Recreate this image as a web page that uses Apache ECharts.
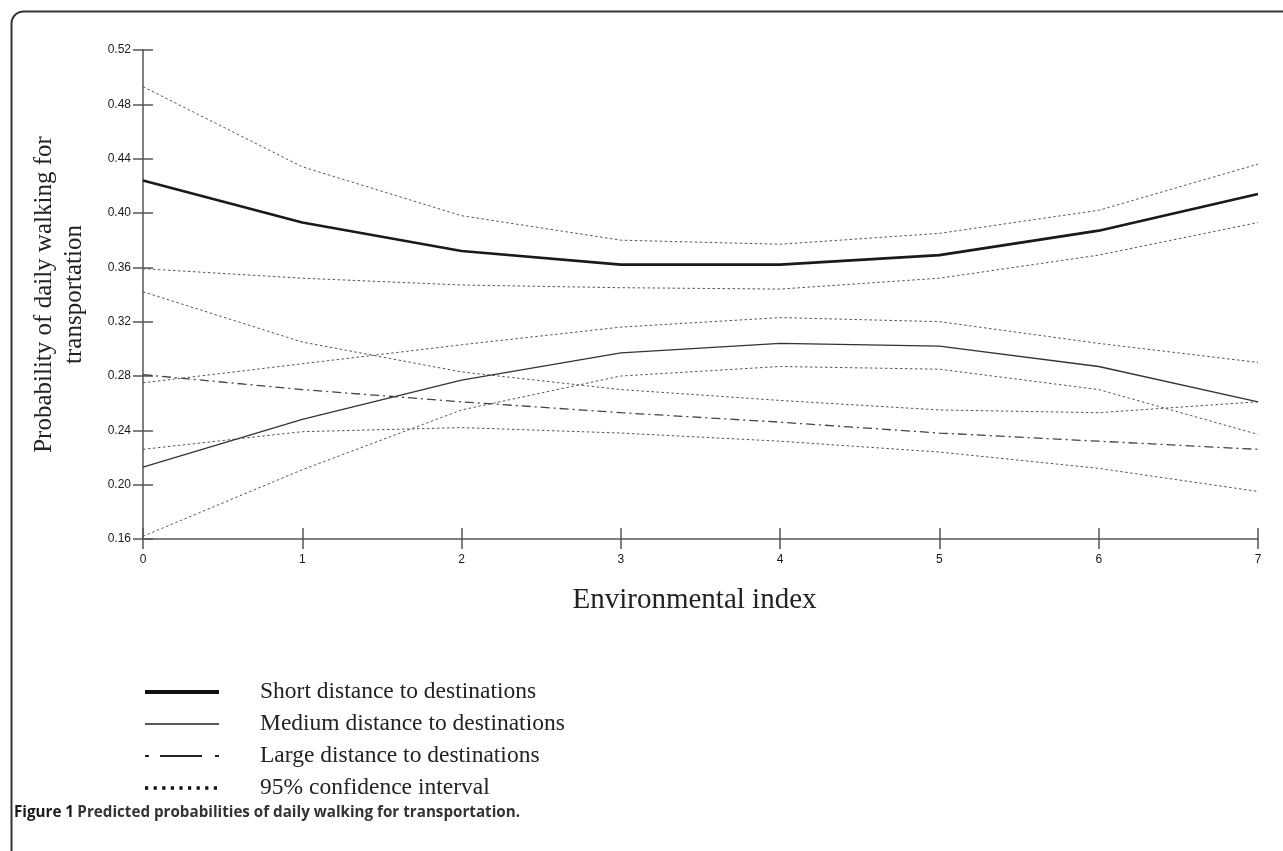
<!DOCTYPE html>
<html>
<head>
<meta charset="utf-8">
<script src="https://cdn.jsdelivr.net/npm/echarts@6/dist/echarts.min.js"></script>
<style>
html,body{margin:0;padding:0;background:#fff;}
#chart{width:1283px;height:851px;}
</style>
</head>
<body>
<div id="chart"></div>
<script>
// ---- data ----
var xValues = [0, 1, 2, 3, 4, 5, 6, 7];
var yTicks = [0.16, 0.20, 0.24, 0.28, 0.32, 0.36, 0.40, 0.44, 0.48, 0.52];
var shortDist = [0.424, 0.393, 0.372, 0.362, 0.362, 0.369, 0.387, 0.414];
var shortUpper = [0.493, 0.434, 0.398, 0.380, 0.377, 0.385, 0.402, 0.436];
var shortLower = [0.359, 0.352, 0.347, 0.345, 0.344, 0.352, 0.369, 0.393];
var mediumDist = [0.213, 0.248, 0.277, 0.297, 0.304, 0.302, 0.287, 0.261];
var mediumUpper = [0.275, 0.289, 0.303, 0.316, 0.323, 0.320, 0.304, 0.290];
var mediumLower = [0.162, 0.211, 0.255, 0.280, 0.287, 0.285, 0.270, 0.237];
var largeDist = [0.281, 0.270, 0.261, 0.253, 0.246, 0.238, 0.232, 0.226];
var largeUpper = [0.342, 0.305, 0.283, 0.270, 0.262, 0.255, 0.253, 0.261];
var largeLower = [0.226, 0.239, 0.242, 0.238, 0.232, 0.224, 0.212, 0.195];

var nameShort = 'Short distance to destinations';
var nameMedium = 'Medium distance to destinations';
var nameLarge = 'Large distance to destinations';
var nameCI = '95% confidence interval';

function pts(arr) { return xValues.map(function (x, i) { return [x, arr[i]]; }); }

var ciStyle = { color: '#555', width: 1, type: [2.5, 2.5] };
function ciSeries(arr) {
  return { name: nameCI, type: 'line', data: pts(arr), symbol: 'none', silent: true,
           itemStyle: { color: '#555' }, lineStyle: ciStyle, z: 2 };
}

var axisColor = '#555';
var labelFont = { fontFamily: 'Liberation Sans', fontSize: 12, color: '#1a1a1a' };
var hiddenSymbol = { opacity: 0, color: 'transparent', borderWidth: 0 };

var chart = echarts.init(document.getElementById('chart'), null, { renderer: 'canvas' });
chart.setOption({
  backgroundColor: '#fff',
  animation: false,
  grid: { left: 143, right: 25, top: 50, bottom: 312, containLabel: false },
  xAxis: [
    { type: 'value', min: 0, max: 7, interval: 1,
      name: 'Environmental index', nameLocation: 'middle', nameGap: 47,
      nameTextStyle: { fontFamily: 'Liberation Serif', fontSize: 29, color: '#222', padding: [0, 12, 0, 0] },
      axisLine: { show: true, lineStyle: { color: axisColor, width: 1.5 } },
      axisTick: { show: true, inside: false, length: 10, lineStyle: { color: axisColor, width: 1.5 } },
      axisLabel: Object.assign({ margin: 15 }, labelFont),
      splitLine: { show: false } },
    { type: 'value', min: 0, max: 7, interval: 1, position: 'bottom',
      axisLine: { show: false },
      axisTick: { show: true, inside: true, length: 11, lineStyle: { color: axisColor, width: 1.5 } },
      axisLabel: { show: false }, splitLine: { show: false } }
  ],
  yAxis: [
    { type: 'value', min: 0.16, max: 0.52, interval: 0.04,
      name: 'Probability of daily walking for\ntransportation', nameLocation: 'middle', nameGap: 54,
      nameRotate: 90,
      nameTextStyle: { fontFamily: 'Liberation Serif', fontSize: 25, color: '#222', lineHeight: 30 },
      axisLine: { show: true, lineStyle: { color: axisColor, width: 1.5 } },
      axisTick: { show: true, inside: false, length: 10, lineStyle: { color: axisColor, width: 1.5 } },
      axisLabel: Object.assign({ margin: 12, formatter: function (v) {
        var t = yTicks.find(function (k) { return Math.abs(k - v) < 1e-6; });
        return (t !== undefined ? t : v).toFixed(2); } }, labelFont),
      splitLine: { show: false } },
    { type: 'value', min: 0.16, max: 0.52, interval: 0.04, position: 'left',
      axisLine: { show: false },
      axisTick: { show: true, inside: true, length: 10, lineStyle: { color: axisColor, width: 1.5 } },
      axisLabel: { show: false }, splitLine: { show: false } }
  ],
  legend: {
    orient: 'vertical', left: 143, top: 680, padding: 0,
    itemWidth: 74, itemHeight: 14, itemGap: 8,
    textStyle: { fontFamily: 'Liberation Serif', fontSize: 23.5, color: '#222', lineHeight: 24,
                 padding: [0, 0, 0, 36] },
    selectedMode: false,
    data: [
      { name: nameShort, itemStyle: hiddenSymbol, lineStyle: { color: '#111', width: 4, type: 'solid' } },
      { name: nameMedium, itemStyle: hiddenSymbol, lineStyle: { color: '#222', width: 1.6, type: 'solid' } },
      { name: nameLarge, itemStyle: hiddenSymbol, lineStyle: { color: '#222', width: 1.8, type: [4, 11, 42, 13] } },
      { name: nameCI, itemStyle: hiddenSymbol, lineStyle: { color: '#111', width: 3.4, type: [3.2, 5.4], cap: 'butt' } }
    ]
  },
  graphic: [
    { type: 'rect', left: 9, top: 9, silent: true,
      shape: { x: 0, y: 0, width: 1400, height: 1000, r: [12, 0, 0, 0] },
      style: { fill: 'none', stroke: '#333', lineWidth: 2 } },
    { type: 'text', left: 14, top: 805, silent: true,
      style: { text: '{b|Figure 1} {n|Predicted probabilities of daily walking for transportation.}',
               rich: {
                 b: { fontFamily: 'Open Sans', fontWeight: 'bold', fontSize: 15.2, fill: '#1a1a1a' },
                 n: { fontFamily: 'Open Sans', fontWeight: 'bold', fontSize: 15.2, fill: '#333' }
               } } }
  ],
  series: [
    { name: nameShort, type: 'line', data: pts(shortDist), symbol: 'none', z: 4,
      itemStyle: { color: '#1a1a1a' }, lineStyle: { color: '#1a1a1a', width: 2.6, type: 'solid' } },
    { name: nameMedium, type: 'line', data: pts(mediumDist), symbol: 'none', z: 3,
      itemStyle: { color: '#333' }, lineStyle: { color: '#333', width: 1.3, type: 'solid' } },
    { name: nameLarge, type: 'line', data: pts(largeDist), symbol: 'none', z: 3,
      itemStyle: { color: '#444' }, lineStyle: { color: '#444', width: 1.3, type: [9, 4, 2, 4] } },
    ciSeries(shortUpper), ciSeries(shortLower),
    ciSeries(mediumUpper), ciSeries(mediumLower),
    ciSeries(largeUpper), ciSeries(largeLower)
  ]
});
</script>
</body>
</html>
